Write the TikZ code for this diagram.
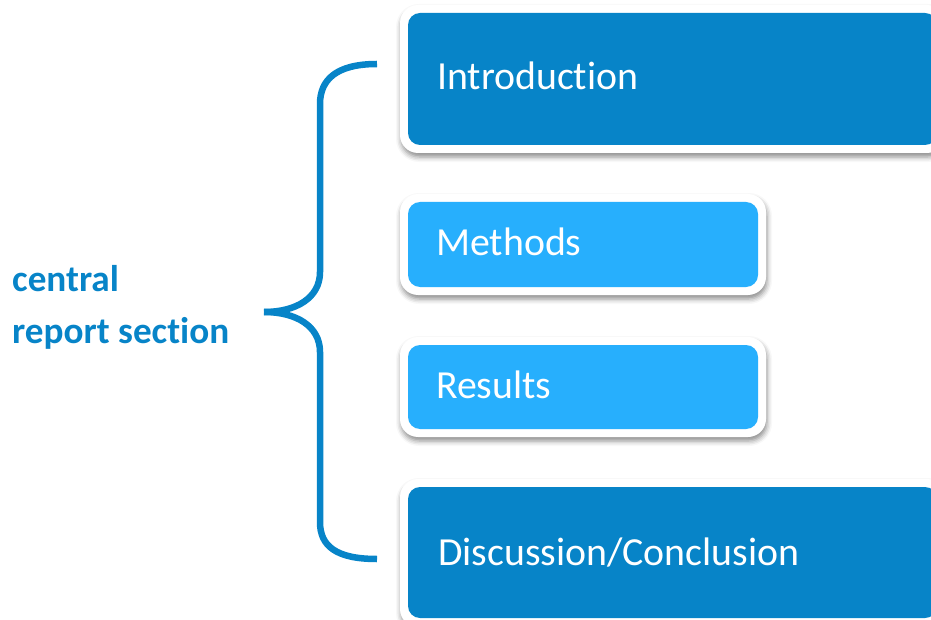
\documentclass[tikz,border=0pt]{standalone}
\usepackage{fontspec}
\setmainfont[Ligatures=NoCommon]{Carlito}
\usetikzlibrary{shadows.blur}
\definecolor{darkbox}{RGB}{7,132,200}
\definecolor{lightbox}{RGB}{39,175,253}
\begin{document}
\begin{tikzpicture}[x=1pt,y=-1pt,
  frame/.style={fill=white, rounded corners=18pt,
    blur shadow={shadow xshift=1pt, shadow yshift=-4pt, shadow blur radius=5pt, shadow opacity=45}},
  boxfill/.style={rounded corners=12pt},
  boxtext/.style={anchor=base west, text=white, font=\fontsize{39.8}{42}\selectfont, inner sep=0pt},
  label/.style={anchor=base west, text=darkbox, font=\bfseries\fontsize{37.2}{45}\selectfont, inner sep=0pt, align=left},
  brace/.style={draw=darkbox, line width=6.5pt, line cap=butt}]
\useasboundingbox (0,0) rectangle (931,620);
% Introduction
\path[frame] (400,5) rectangle (945,153);
\path[boxfill, fill=darkbox] (408,13) rectangle (937,145);
\node[boxtext] (intro) at (437,90) {Introduction};
% Methods
\path[frame] (400,194) rectangle (766,295);
\path[boxfill, fill=lightbox] (408,202) rectangle (758,287);
\node[boxtext] (methods) at (436,255) {Methods};
% Results
\path[frame] (400,337) rectangle (766,437);
\path[boxfill, fill=lightbox] (408,345) rectangle (758,429);
\node[boxtext] (results) at (436,398) {Results};
% Discussion
\path[frame] (400,479) rectangle (945,627);
\path[boxfill, fill=darkbox] (408,487) rectangle (937,618);
\node[boxtext] (disc) at (438,565) {Discussion/Conclusion};
% label
\node[label] (lab1) at (12,291) {central};
\node[label] (lab2) at (12,343) {report section};
% brace
\coordinate (btop) at (377,64);
\coordinate (btip) at (264,312);
\coordinate (bbot) at (377,559);
\draw[brace] (btop) .. controls (336,64) and (320,80) .. (320,104)
  -- (320,272) .. controls (320,298) and (296,312) .. (btip);
\draw[brace] (btip) .. controls (296,312) and (320,326) .. (320,352)
  -- (320,522) .. controls (320,546) and (336,559) .. (bbot);
\end{tikzpicture}
\end{document}
